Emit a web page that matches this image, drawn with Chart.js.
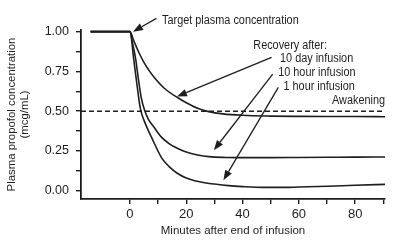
<!DOCTYPE html>
<html>
<head>
<meta charset="utf-8">
<script src="https://cdn.jsdelivr.net/npm/chart.js@4"></script>
<style>
  html, body { margin: 0; padding: 0; background: #fff; }
</style>
</head>
<body>
<canvas id="propofolChart" width="400" height="244"></canvas>
<script>
// minutes after end of infusion / plasma concentration (mcg/mL)
var minutes10Day = [-14, 0, 1.5, 3, 5, 7, 8.7, 12.2, 17, 20, 24, 28, 33, 40, 50, 60, 70, 80, 91];
var conc10Day    = [1, 1, 0.935, 0.875, 0.805, 0.75, 0.71, 0.644, 0.584, 0.553, 0.518, 0.497, 0.483, 0.474, 0.469, 0.467, 0.466, 0.466, 0.465];

var minutes10Hour = [-14, 0, 1, 2, 3, 4, 5.2, 6.5, 8.5, 11, 14, 17, 20, 24, 28, 34, 40, 50, 60, 70, 80, 91];
var conc10Hour    = [1, 1, 0.92, 0.83, 0.70, 0.585, 0.505, 0.45, 0.40, 0.34, 0.295, 0.265, 0.243, 0.225, 0.214, 0.209, 0.208, 0.208, 0.209, 0.21, 0.211, 0.212];

var minutes1Hour = [-14, 0, 1.3, 2.5, 3.7, 5.5, 7.8, 11.3, 14, 16.8, 20, 23, 26, 30, 35, 40, 47, 55, 60, 70, 80, 91];
var conc1Hour    = [1, 1, 0.832, 0.663, 0.516, 0.42, 0.33, 0.205, 0.15, 0.11, 0.08, 0.063, 0.052, 0.042, 0.032, 0.026, 0.021, 0.021, 0.023, 0.028, 0.034, 0.04];

var awakeningLevel = 0.5;

var xMin = -17.4, xMax = 90.6;
var yMin = -0.052, yMax = 1.01;

var xTickValues = [0, 10, 20, 30, 40, 50, 60, 70, 80, 90];
var yTickValues = [0, 0.125, 0.25, 0.375, 0.5, 0.625, 0.75, 0.875, 1];

var FONT = "'Liberation Sans Narrow', 'Arial Narrow', 'Liberation Sans', Arial, sans-serif";
var INK = '#1e1e1e';

// labels and arrows, placed in data units
var notes = [
  { text: 'Target plasma concentration', x: 11.4, y: 1.072, align: 'left' },
  { text: 'Recovery after:', x: 56.9, y: 0.915, align: 'center' },
  { text: '10 day infusion', x: 66.3, y: 0.833, align: 'center' },
  { text: '10 hour infusion', x: 66.4, y: 0.745, align: 'center' },
  { text: '1 hour infusion', x: 67.2, y: 0.657, align: 'center' },
  { text: 'Awakening', x: 90.6, y: 0.569, align: 'right' }
];
var arrows = [
  { x0: 9.4, y0: 1.083, x1: 1.07, y1: 0.999 },
  { x0: 50.3, y0: 0.838, x1: 16.7, y1: 0.592 },
  { x0: 50.7, y0: 0.733, x1: 29.8, y1: 0.255 },
  { x0: 52.7, y0: 0.649, x1: 33.2, y1: 0.066 }
];

function toPoints(xs, ys) {
  var pts = [];
  for (var i = 0; i < xs.length; i++) pts.push({ x: xs[i], y: ys[i] });
  return pts;
}

function curve(label, xs, ys) {
  return {
    label: label,
    data: toPoints(xs, ys),
    borderColor: INK,
    borderWidth: 1.6,
    pointRadius: 0,
    fill: false,
    cubicInterpolationMode: 'monotone'
  };
}

var annotationPlugin = {
  id: 'notes',
  afterDraw: function(chart) {
    var ctx = chart.ctx, sx = chart.scales.x, sy = chart.scales.y;
    ctx.save();
    ctx.fillStyle = INK;
    ctx.strokeStyle = INK;
    ctx.font = '12.5px ' + FONT;
    ctx.textBaseline = 'middle';
    notes.forEach(function(n) {
      ctx.textAlign = n.align;
      // squeeze a bit, the original uses a narrow face
      var w = ctx.measureText(n.text).width * 0.87;
      ctx.fillText(n.text, sx.getPixelForValue(n.x), sy.getPixelForValue(n.y), w);
    });
    ctx.lineWidth = 1.3;
    arrows.forEach(function(a) {
      var x0 = sx.getPixelForValue(a.x0), y0 = sy.getPixelForValue(a.y0);
      var x1 = sx.getPixelForValue(a.x1), y1 = sy.getPixelForValue(a.y1);
      var ang = Math.atan2(y1 - y0, x1 - x0);
      var len = 10, half = 3.8;
      var bx = x1 - len * Math.cos(ang), by = y1 - len * Math.sin(ang);
      ctx.beginPath();
      ctx.moveTo(x0, y0);
      ctx.lineTo(bx, by);
      ctx.stroke();
      ctx.beginPath();
      ctx.moveTo(x1, y1);
      ctx.lineTo(bx + half * Math.sin(ang), by - half * Math.cos(ang));
      ctx.lineTo(bx - half * Math.sin(ang), by + half * Math.cos(ang));
      ctx.closePath();
      ctx.fill();
    });
    ctx.restore();
  }
};

Chart.defaults.font.family = FONT;
Chart.defaults.color = INK;

new Chart(document.getElementById('propofolChart'), {
  type: 'line',
  data: {
    datasets: [
      curve('10 day infusion', minutes10Day, conc10Day),
      curve('10 hour infusion', minutes10Hour, conc10Hour),
      curve('1 hour infusion', minutes1Hour, conc1Hour),
      {
        label: 'Awakening',
        data: [{ x: xMin, y: awakeningLevel }, { x: xMax, y: awakeningLevel }],
        borderColor: INK,
        borderWidth: 1.5,
        borderDash: [5, 3],
        pointRadius: 0,
        fill: false
      }
    ]
  },
  options: {
    responsive: false,
    animation: false,
    events: [],
    layout: { padding: { top: 30, right: 15, left: 0, bottom: 0 } },
    plugins: { legend: { display: false }, tooltip: { enabled: false } },
    scales: {
      x: {
        type: 'linear',
        min: xMin,
        max: xMax,
        afterBuildTicks: function(s) { s.ticks = xTickValues.map(function(v) { return { value: v }; }); },
        afterFit: function(s) { s.height = 45; },
        ticks: {
          font: { size: 13 },
          padding: 3,
          maxRotation: 0,
          autoSkip: false,
          callback: function(v) { return v % 20 === 0 ? String(v) : ''; }
        },
        grid: { drawOnChartArea: false, drawTicks: true, tickLength: 5, color: INK, lineWidth: 1.4 },
        border: { display: true, color: INK, width: 1.8 },
        title: { display: true, text: 'Minutes after end of infusion', font: { size: 11.5 }, padding: { top: 2, bottom: 6 } }
      },
      y: {
        type: 'linear',
        min: yMin,
        max: yMax,
        afterBuildTicks: function(s) { s.ticks = yTickValues.map(function(v) { return { value: v }; }); },
        afterFit: function(s) { s.width = 81; },
        ticks: {
          font: { size: 12.5 },
          padding: 7,
          autoSkip: false,
          callback: function(v) { return Math.abs(v * 4 - Math.round(v * 4)) < 1e-6 ? v.toFixed(2) : ''; }
        },
        grid: { drawOnChartArea: false, drawTicks: true, tickLength: 5, color: INK, lineWidth: 1.4 },
        border: { display: true, color: INK, width: 1.8 },
        title: { display: true, text: ['Plasma propofol concentration', '(mcg/mL)'], font: { size: 11.4, lineHeight: 1.1 }, padding: { top: 6, bottom: 0 } }
      }
    }
  },
  plugins: [annotationPlugin]
});
</script>
</body>
</html>
